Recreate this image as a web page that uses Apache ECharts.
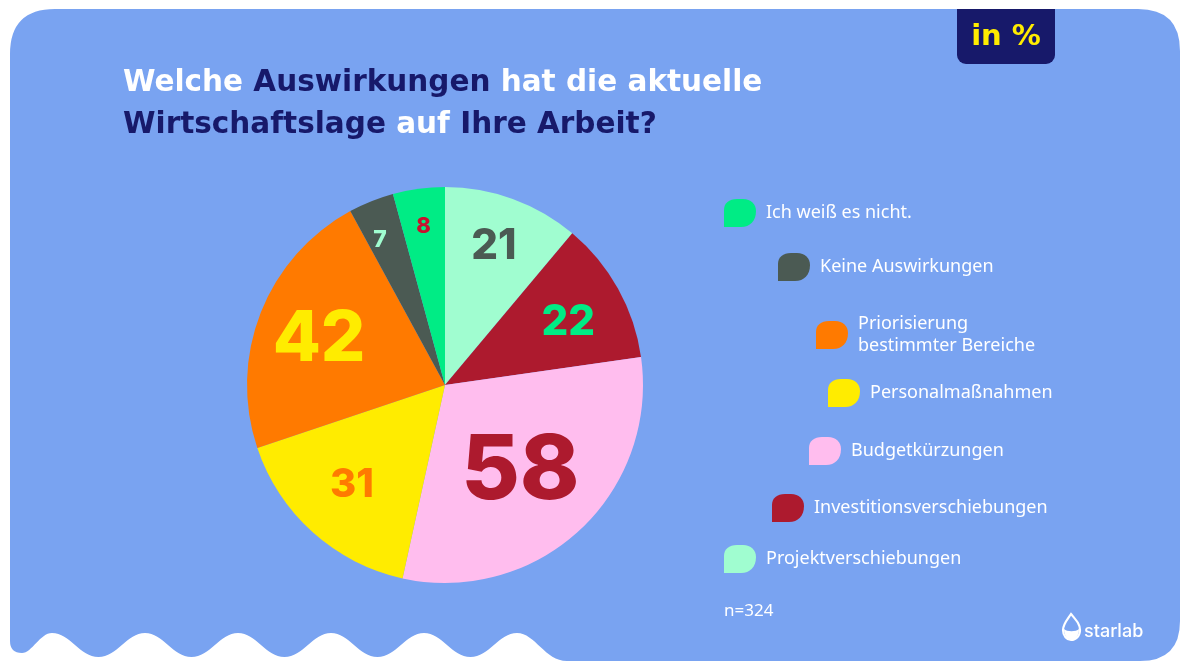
<!DOCTYPE html>
<html>
<head>
<meta charset="utf-8">
<script src="https://cdn.jsdelivr.net/npm/echarts@6/dist/echarts.min.js"></script>
<style>
html,body{margin:0;padding:0;background:#fff;}
#chart{width:1190px;height:670px;}
</style>
</head>
<body>
<div id="chart"></div>
<script>
// ---- data ----
const categories = ['Projektverschiebungen', 'Investitionsverschiebungen', 'Budgetkürzungen', 'Personalmaßnahmen', 'Priorisierung\nbestimmter Bereiche', 'Keine Auswirkungen', 'Ich weiß es nicht.'];
const values = [21, 22, 58, 31, 42, 7, 8];
const legendOrder = ['Ich weiß es nicht.', 'Keine Auswirkungen', 'Priorisierung\nbestimmter Bereiche', 'Personalmaßnahmen', 'Budgetkürzungen', 'Investitionsverschiebungen', 'Projektverschiebungen'];
const sampleNote = 'n=324';
const unitNote = 'in %';

// ---- styling ----
const sliceColors = ['#a0fdd0', '#ad1a2e', '#ffbdee', '#ffec00', '#ff7a00', '#4b5a53', '#00ec85'];
const labelColors = ['#4b5a53', '#00ec85', '#ad1a2e', '#ff7a00', '#ffec00', '#a0fdd0', '#c8102e'];
const labelSizes = [42, 42, 90, 40, 70, 23, 22];
const labelShift = [[14, -43], [34, -13], [6, 12], [-25, 24], [-31, -8], [-27, -50], [-8, -58]];
const legendPos = [[724, 199], [778, 253], [816, 313], [828, 379], [809, 437], [772, 494], [724, 545]];
const BG = '#79a3f1';
const NAVY = '#17196a';
const numFont = 'Inter';
const titleFont = 'DejaVu Sans';

const iconPath = 'path://M0,11 C0,4 5,0 13,0 L19,0 C27,0 32,5 32,12 C32,22 26,28 17,28 L0,28 Z';

// card shape with wavy bottom-left edge
function cardPath() {
  let p = 'M10 54 Q10 9 55 9 L1138 9 Q1180 9 1180 51 L1180 621 Q1180 661 1140 661 L567 661 ';
  p += 'C545 661 535 633 517 633 ';
  let x = 517;
  for (let k = 0; k < 5; k++) {
    p += 'C' + (x - 18) + ' 633 ' + (x - 28) + ' 657 ' + (x - 46.5) + ' 657 ';
    p += 'C' + (x - 65) + ' 657 ' + (x - 75) + ' 633 ' + (x - 93) + ' 633 ';
    x -= 93;
  }
  p += 'C40 633 32 653 22 653 Q10 653 10 641 Z';
  return p;
}

const chart = echarts.init(document.getElementById('chart'), null, {renderer: 'canvas'});

const pieData = categories.map((c, i) => ({
  name: c,
  value: values[i],
  itemStyle: {color: sliceColors[i]},
  label: {color: labelColors[i], fontSize: labelSizes[i]}
}));

const legends = legendOrder.map((n, i) => ({
  data: [n],
  left: legendPos[i][0],
  top: legendPos[i][1],
  orient: 'vertical',
  padding: 0,
  icon: iconPath,
  itemWidth: 32,
  itemHeight: 28,
  selectedMode: false,
  textStyle: {color: '#ffffff', fontSize: 18, fontFamily: 'Noto Sans', lineHeight: 22, padding: [0, 0, 0, 5]}
}));

const option = {
  backgroundColor: '#ffffff',
  animation: false,
  title: {
    left: 118,
    top: 57,
    text: '{w|Welche }{n|Auswirkungen}{w| hat die aktuelle}\n{n|Wirtschaftslage}{w| auf }{n|Ihre Arbeit?}',
    textStyle: {
      rich: {
        w: {color: '#ffffff', fontSize: 29.5, fontWeight: 'bold', fontFamily: titleFont, lineHeight: 42},
        n: {color: NAVY, fontSize: 29.5, fontWeight: 'bold', fontFamily: titleFont, lineHeight: 42}
      }
    }
  },
  legend: legends,
  graphic: [
    {type: 'rect', z: 1, shape: {x: 957, y: 9, width: 98, height: 55, r: [0, 0, 9, 9]}, style: {fill: NAVY}},
    {type: 'text', z: 2, style: {x: 1006, y: 37, text: unitNote, fill: '#ffec00', font: 'bold 29px "DejaVu Sans"', textAlign: 'center', textVerticalAlign: 'middle'}},
    {type: 'text', z: 2, style: {x: 724, y: 611, text: sampleNote, fill: '#ffffff', font: '17px "Noto Sans"', textVerticalAlign: 'middle'}},
    {type: 'text', z: 2, style: {x: 1084, y: 632, text: 'starlab', fill: '#ffffff', font: '500 18px Inter', textVerticalAlign: 'middle'}}
  ],
  series: [{
    type: 'custom',
    coordinateSystem: 'none',
    silent: true,
    z: 0,
    data: [0],
    renderItem: function () {
      return {
        type: 'group',
        children: [
          {type: 'path', shape: {pathData: cardPath()}, style: {fill: BG}},
          {type: 'path', shape: {pathData: 'M1071 614 C1067 620 1063 624 1063 630 C1063 636 1067 640 1071 640 C1076 640 1080 636 1080 630 C1080 624 1076 620 1071 614 Z'}, style: {fill: 'none', stroke: '#ffffff', lineWidth: 2.2}},
          {type: 'path', shape: {pathData: 'M1064 629 C1064 636 1068 640 1071.5 640 C1075 640 1079 636 1079 629 C1076 632 1067 632 1064 629 Z'}, style: {fill: '#ffffff'}}
        ]
      };
    }
  }, {
    type: 'pie',
    center: [445, 385],
    radius: [0, 198],
    startAngle: 90,
    clockwise: true,
    avoidLabelOverlap: false,
    label: {
      show: true,
      position: 'inside',
      formatter: '{c}',
      fontFamily: numFont,
      fontWeight: 800
    },
    labelLine: {show: false},
    labelLayout: function (params) {
      const s = labelShift[params.dataIndex];
      return {dx: s[0], dy: s[1]};
    },
    emphasis: {disabled: true},
    itemStyle: {borderWidth: 0},
    data: pieData
  }]
};
chart.setOption(option);
</script>
</body>
</html>
